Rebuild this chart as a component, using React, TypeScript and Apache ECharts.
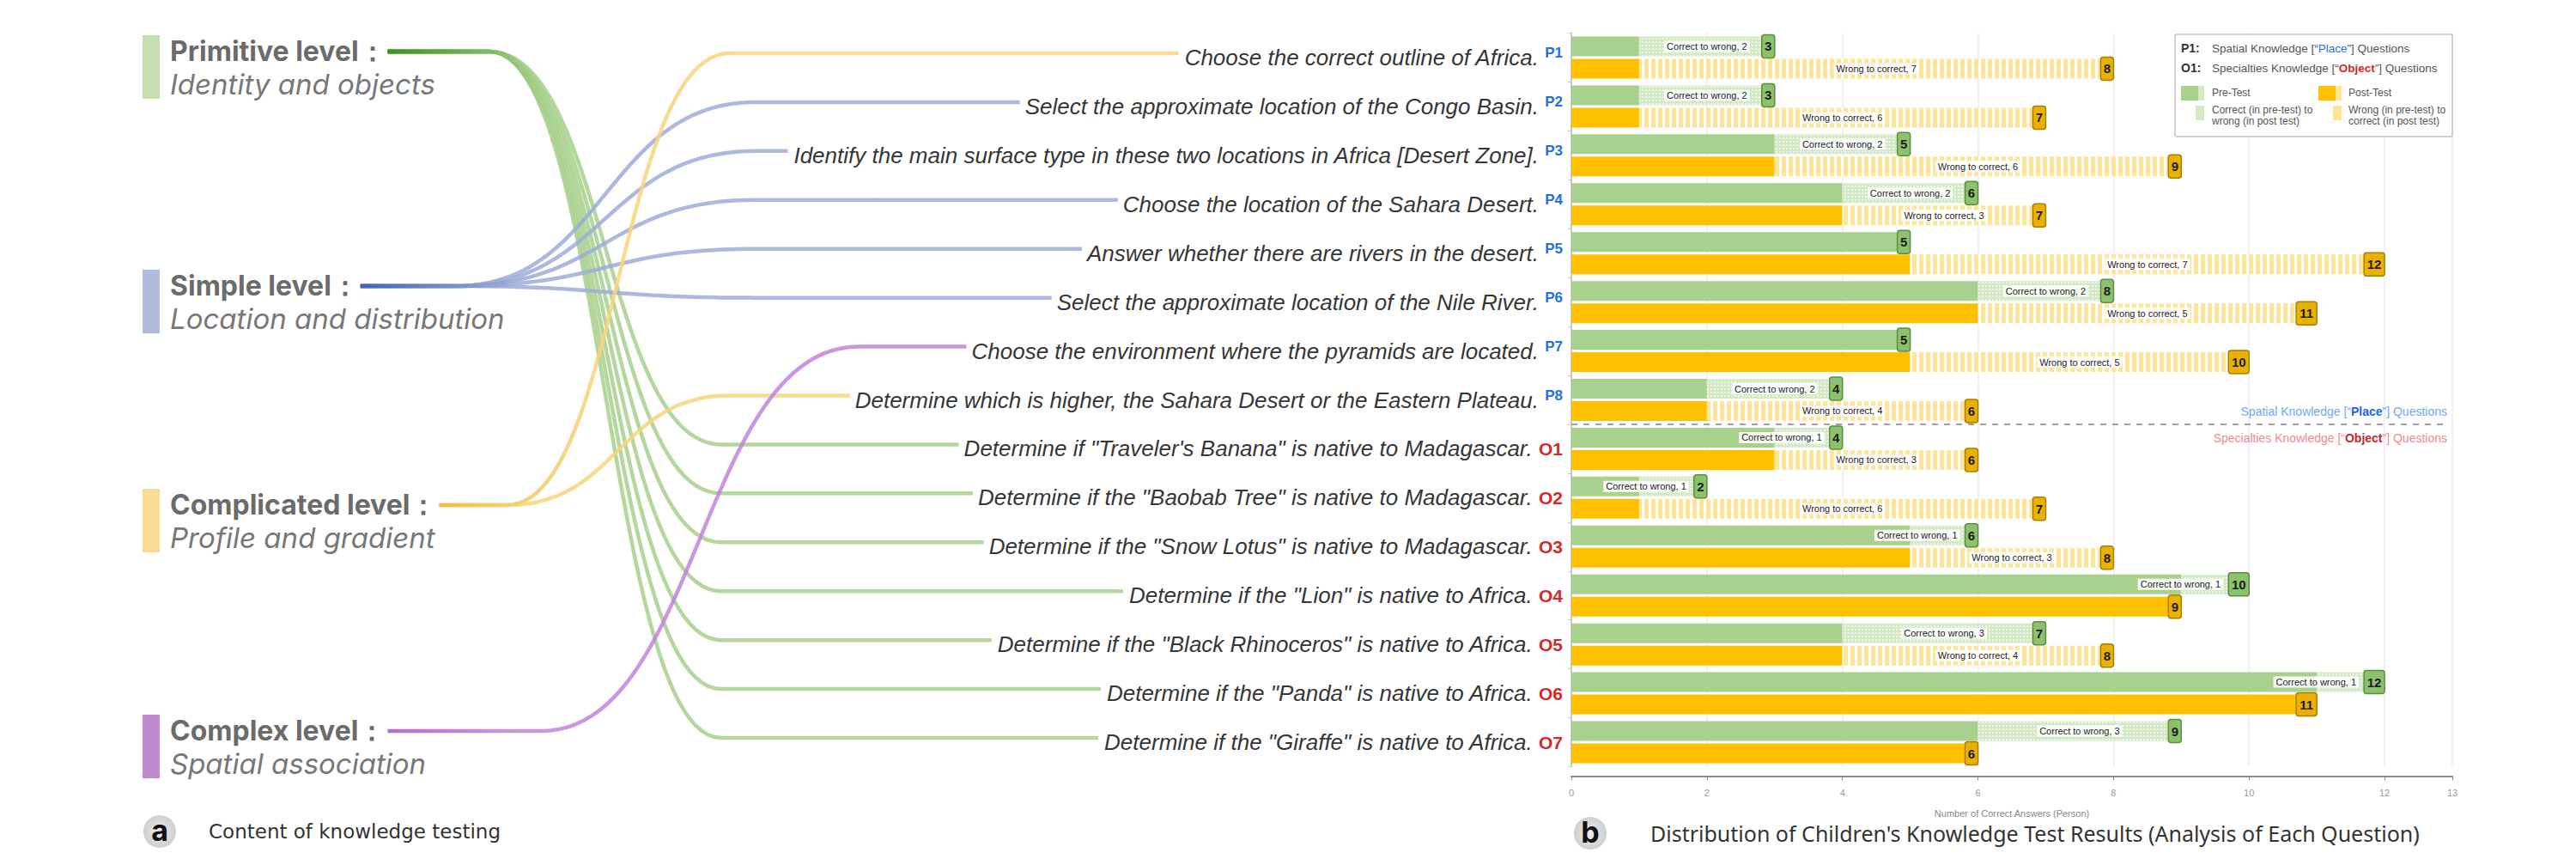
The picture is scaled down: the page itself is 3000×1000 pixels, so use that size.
import React, { useEffect, useRef } from 'react';
import * as echarts from 'echarts';

// ---------------- DATA ----------------
const questionIds = ['P1', 'P2', 'P3', 'P4', 'P5', 'P6', 'P7', 'P8', 'O1', 'O2', 'O3', 'O4', 'O5', 'O6', 'O7'];
const questionTexts = [
  'Choose the correct outline of Africa.',
  'Select the approximate location of the Congo Basin.',
  'Identify the main surface type in these two locations in Africa [Desert Zone].',
  'Choose the location of the Sahara Desert.',
  'Answer whether there are rivers in the desert.',
  'Select the approximate location of the Nile River.',
  'Choose the environment where the pyramids are located.',
  'Determine which is higher, the Sahara Desert or the Eastern Plateau.',
  'Determine if "Traveler\'s Banana" is native to Madagascar.',
  'Determine if the "Baobab Tree" is native to Madagascar.',
  'Determine if the "Snow Lotus" is native to Madagascar.',
  'Determine if the "Lion" is native to Africa.',
  'Determine if the "Black Rhinoceros" is native to Africa.',
  'Determine if the "Panda" is native to Africa.',
  'Determine if the "Giraffe" is native to Africa.',
];
const preTotal = [3, 3, 5, 6, 5, 8, 5, 4, 4, 2, 6, 10, 7, 12, 9];
const correctToWrong = [2, 2, 2, 2, 0, 2, 0, 2, 1, 1, 1, 1, 3, 1, 3];
const postTotal = [8, 7, 9, 7, 12, 11, 10, 6, 6, 7, 8, 9, 8, 11, 6];
const wrongToCorrect = [7, 6, 6, 3, 7, 5, 5, 4, 3, 6, 3, 0, 4, 0, 0];

const xMin = 0;
const xMax = 13;
const xInterval = 2;
const xAxisName = 'Number of Correct Answers (Person)';

const levelTitles = ['Primitive level', 'Simple level', 'Complicated level', 'Complex level'];
const levelDescs = ['Identity and objects', 'Location and distribution', 'Profile and gradient', 'Spatial association'];
const levelTargets = [
  ['O1', 'O2', 'O3', 'O4', 'O5', 'O6', 'O7'],
  ['P2', 'P3', 'P4', 'P5', 'P6'],
  ['P1', 'P8'],
  ['P7'],
];

const panelATitle = 'Content of knowledge testing';
const panelBTitle = "Distribution of Children's Knowledge Test Results (Analysis of Each Question)";

// ---------------- STYLE / LAYOUT ----------------
const GRID_LEFT = 1830;
const GRID_TOP = 38.5;
const GRID_W = 1026;
const GRID_H = 854;
const BAR_W = 23;
const BAR_OFF = 13;

const GREEN = '#a9d18e';
const GREEN_H = '#d4e9c5';
const ORANGE = '#ffc000';
const ORANGE_H = '#ffe597';

const Q_FAMILY = '"Liberation Sans", Arial, sans-serif';
const Q_SIZE = 26;
const ID_FAMILY = '"Liberation Sans", Arial, sans-serif';
const SMALL_FAMILY = '"Liberation Sans Narrow", "Liberation Sans", sans-serif';
const LVL_FAMILY = 'Inter, "Noto Sans", sans-serif';

const levelBarColors = ['#c5dfb2', '#b0bcdc', '#f8dc94', '#c08ad0'];
const curveLight = ['#a6d08b', '#9eacd8', '#f7d47e', '#c284dc'];
const curveDark = ['#3c931c', '#4462b8', '#efbc3c', '#a555c9'];
const levelTitleY = [59, 332, 587, 850];
const curveBend = [
  [570, 840],
  [530, 880],
  [590, 850],
  [630, 1000],
];

const ctx = typeof document !== 'undefined' ? document.createElement('canvas').getContext('2d') : null;
function textW(font: string, s: string): number {
  if (!ctx) return s.length * 8;
  ctx.font = font;
  return ctx.measureText(s).width;
}

function buildOption() {
  const unit = GRID_W / (xMax - xMin);
  const solid = preTotal.map((v, i) => v - correctToWrong[i]);
  const labelFont = `11px ${SMALL_FAMILY}`;
  const badgeW = (v: number) => (String(v).length > 1 ? 24 : 15);

  const hatchedData = (vals: number[], totals: number[], prefix: string) =>
    vals.map((v, i) => {
      const lw = textW(labelFont, `${prefix}, ${v}`) + 6;
      const seg = v * unit;
      const narrow = seg - badgeW(totals[i]) - 4 < lw;
      return {
        value: v,
        label: narrow
          ? { show: v > 0, position: 'insideRight', distance: badgeW(totals[i]) + 6 }
          : { show: v > 0, position: 'inside' },
      };
    });

  const hatchLabel = (prefix: string) => ({
    show: true,
    formatter: (p: any) => `${prefix}, ${p.value}`,
    fontSize: 11,
    fontFamily: SMALL_FAMILY,
    color: '#222',
    backgroundColor: 'rgba(255,255,255,0.9)',
    padding: [1, 3],
  });

  const badgeData: number[][] = [];
  preTotal.forEach((v, i) => badgeData.push([v, i, 0]));
  postTotal.forEach((v, i) => badgeData.push([v, i, 1]));

  return {
    animation: false,
    backgroundColor: '#ffffff',
    grid: { left: GRID_LEFT, top: GRID_TOP, width: GRID_W, height: GRID_H, outerBoundsMode: 'none' },
    xAxis: {
      type: 'value',
      min: xMin,
      max: xMax,
      interval: xInterval,
      offset: 11,
      axisLine: { show: true, lineStyle: { color: '#8c8c8c', width: 2 } },
      axisTick: { show: true, length: 5, lineStyle: { color: '#8c8c8c' } },
      axisLabel: { color: '#9a9a9a', fontSize: 11, margin: 14, fontFamily: SMALL_FAMILY },
      splitLine: { show: true, lineStyle: { color: '#ececec', width: 1.5 } },
      name: xAxisName,
      nameLocation: 'middle',
      nameGap: 38,
      nameTextStyle: { color: '#888', fontSize: 11, fontFamily: SMALL_FAMILY },
    },
    yAxis: {
      type: 'category',
      data: questionIds,
      inverse: true,
      axisLine: { show: true, lineStyle: { color: '#c8c8c8', width: 2 } },
      axisTick: { show: true, length: 4, lineStyle: { color: '#c8c8c8' } },
      axisLabel: {
        interval: 0,
        margin: 10,
        formatter: (val: string, idx: number) =>
          `{q|${questionTexts[idx]} }{${val[0] === 'P' ? 'p' : 'o'}|${val}}`,
        rich: {
          q: { fontFamily: Q_FAMILY, fontStyle: 'italic', fontSize: Q_SIZE, color: '#363636' },
          p: { fontFamily: ID_FAMILY, fontWeight: 'bold', fontSize: 17, color: '#1f6fe8', padding: [0, 0, 10, 0] },
          o: { fontFamily: ID_FAMILY, fontWeight: 'bold', fontSize: 21, color: '#d42a2a' },
        },
      },
    },
    series: [
      {
        name: 'Pre-Test',
        type: 'bar',
        stack: 'pre',
        barWidth: BAR_W,
        barGap: '13%',
        silent: true,
        itemStyle: { color: GREEN },
        data: solid,
      },
      {
        name: 'Correct to wrong',
        type: 'bar',
        stack: 'pre',
        barWidth: BAR_W,
        barGap: '13%',
        silent: true,
        itemStyle: {
          color: GREEN_H,
          decal: { symbol: 'rect', symbolSize: 1, dashArrayX: [2, 2], dashArrayY: [2, 2], color: 'rgba(255,255,255,0.6)' },
        },
        label: hatchLabel('Correct to wrong'),
        data: hatchedData(correctToWrong, preTotal, 'Correct to wrong'),
      },
      {
        name: 'Post-Test',
        type: 'bar',
        stack: 'post',
        barWidth: BAR_W,
        barGap: '13%',
        silent: true,
        itemStyle: { color: ORANGE },
        data: solid,
      },
      {
        name: 'Wrong to correct',
        type: 'bar',
        stack: 'post',
        barWidth: BAR_W,
        barGap: '13%',
        silent: true,
        itemStyle: {
          color: ORANGE_H,
          decal: { symbol: 'rect', symbolSize: 1, dashArrayX: [3, 5], dashArrayY: [1, 0], color: '#ffffff' },
        },
        label: hatchLabel('Wrong to correct'),
        data: hatchedData(wrongToCorrect, postTotal, 'Wrong to correct'),
      },
      {
        name: 'Totals',
        type: 'custom',
        silent: true,
        encode: { x: 0, y: 1 },
        data: badgeData,
        z: 5,
        renderItem: (_params: any, api: any) => {
          const v = api.value(0);
          const ci = api.value(1);
          const kind = api.value(2);
          const pt = api.coord([v, ci]);
          const yc = pt[1] + (kind === 0 ? -BAR_OFF : BAR_OFF);
          const txt = String(v);
          const w = badgeW(v);
          const h = 27;
          return {
            type: 'group',
            children: [
              {
                type: 'rect',
                shape: { x: pt[0] - w, y: yc - h / 2, width: w, height: h, r: 3 },
                style: {
                  fill: kind === 0 ? '#8cc26c' : '#ebb100',
                  stroke: kind === 0 ? '#5e8d44' : '#a88000',
                  lineWidth: 1.5,
                },
              },
              {
                type: 'text',
                style: {
                  text: txt,
                  x: pt[0] - w / 2,
                  y: yc,
                  align: 'center',
                  verticalAlign: 'middle',
                  fontSize: 15,
                  fontWeight: 'bold',
                  fontFamily: SMALL_FAMILY,
                  fill: '#1c1c1c',
                },
              },
            ],
          };
        },
      },
    ],
  };
}

function buildGraphics(chart: any) {
  const g: any[] = [];
  const rowY = (id: string) => chart.convertToPixel({ yAxisIndex: 0 }, id) as number;

  const qFont = `italic ${Q_SIZE}px ${Q_FAMILY}`;
  const textStart = (id: string) => {
    const idx = questionIds.indexOf(id);
    const idFont = id[0] === 'P' ? `bold 17px ${ID_FAMILY}` : `bold 21px ${ID_FAMILY}`;
    const w = textW(qFont, questionTexts[idx] + ' ') + textW(idFont, id);
    return GRID_LEFT - 10 - w;
  };

  const titleFont = `bold 32px ${LVL_FAMILY}`;
  const descFont = `italic 33px ${LVL_FAMILY}`;

  levelTitles.forEach((title, li) => {
    const ty = levelTitleY[li];
    const tw = textW(titleFont, `${title}：`);
    const xs = 198 + tw + 2;
    const ys = ty + 1;
    const [xa, xb] = curveBend[li];
    levelTargets[li].forEach((id) => {
      const yt = rowY(id) - 5;
      const xe = textStart(id) - 6;
      const pts: number[][] = [[xs, ys], [xa, ys]];
      const cx = (xa + xb) / 2;
      const N = 50;
      for (let k = 1; k <= N; k++) {
        const t = k / N;
        const mt = 1 - t;
        const x = mt * mt * mt * xa + 3 * mt * mt * t * cx + 3 * mt * t * t * cx + t * t * t * xb;
        const y = mt * mt * mt * ys + 3 * mt * mt * t * ys + 3 * mt * t * t * yt + t * t * t * yt;
        pts.push([x, y]);
      }
      pts.push([xe, yt]);
      g.push({
        type: 'polyline',
        z: 1,
        silent: true,
        shape: { points: pts },
        style: {
          fill: null,
          lineWidth: 4.5,
          opacity: 0.85,
          stroke: {
            type: 'linear',
            x: xs,
            y: 0,
            x2: xe,
            y2: 0,
            global: true,
            colorStops: [
              { offset: 0, color: curveDark[li] },
              { offset: 0.22, color: curveLight[li] },
              { offset: 1, color: curveLight[li] },
            ],
          },
        },
      });
    });

    g.push({
      type: 'rect',
      z: 2,
      silent: true,
      shape: { x: 166, y: ty - 18, width: 20, height: 74 },
      style: { fill: levelBarColors[li] },
    });
    g.push({
      type: 'text',
      z: 3,
      silent: true,
      x: 198,
      y: ty,
      style: { text: `${title}：`, font: titleFont, fill: '#6b6b6b', verticalAlign: 'middle' },
    });
    g.push({
      type: 'text',
      z: 3,
      silent: true,
      x: 198,
      y: ty + 39,
      style: { text: levelDescs[li], font: descFont, fill: '#777', verticalAlign: 'middle' },
    });
  });

  // separator between P and O questions
  const ySep = (rowY('P8') + rowY('O1')) / 2;
  g.push({
    type: 'line',
    z: 4,
    silent: true,
    shape: { x1: GRID_LEFT, y1: ySep, x2: 2845, y2: ySep },
    style: { stroke: '#a0a0a0', lineWidth: 2, lineDash: [7, 7] },
  });
  g.push({
    type: 'text',
    z: 4,
    silent: true,
    x: 2850,
    y: ySep - 15,
    style: {
      text: '{a|Spatial Knowledge [“}{b|Place}{a|”] Questions}',
      align: 'right',
      verticalAlign: 'middle',
      rich: {
        a: { fontSize: 14, fontFamily: SMALL_FAMILY, fill: '#6ea8ff' },
        b: { fontSize: 14, fontFamily: SMALL_FAMILY, fontWeight: 'bold', fill: '#1f64e0' },
      },
    },
  });
  g.push({
    type: 'text',
    z: 4,
    silent: true,
    x: 2850,
    y: ySep + 16,
    style: {
      text: '{a|Specialties Knowledge [“}{b|Object}{a|”] Questions}',
      align: 'right',
      verticalAlign: 'middle',
      rich: {
        a: { fontSize: 14, fontFamily: SMALL_FAMILY, fill: '#ef8a8e' },
        b: { fontSize: 14, fontFamily: SMALL_FAMILY, fontWeight: 'bold', fill: '#c4262c' },
      },
    },
  });

  // legend box
  const LX = 2533;
  const LY = 40;
  g.push({
    type: 'rect',
    z: 6,
    silent: true,
    shape: { x: LX, y: LY, width: 323, height: 119, r: 2 },
    style: { fill: '#ffffff', stroke: '#c4c4c4', lineWidth: 1.5 },
  });
  const legendText = (x: number, y: number, style: any) =>
    g.push({ type: 'text', z: 7, silent: true, x, y, style: { verticalAlign: 'middle', ...style } });
  legendText(2540, 56, { text: 'P1:', font: `bold 14px ${ID_FAMILY}`, fill: '#333' });
  legendText(2576, 56, {
    text: '{a|Spatial Knowledge [“}{b|Place}{a|”] Questions}',
    rich: {
      a: { fontSize: 13.5, fontFamily: SMALL_FAMILY, fill: '#555' },
      b: { fontSize: 13.5, fontFamily: SMALL_FAMILY, fill: '#1f6fe8' },
    },
  });
  legendText(2540, 79, { text: 'O1:', font: `bold 14px ${ID_FAMILY}`, fill: '#333' });
  legendText(2576, 79, {
    text: '{a|Specialties Knowledge [“}{b|Object}{a|”] Questions}',
    rich: {
      a: { fontSize: 13.5, fontFamily: SMALL_FAMILY, fill: '#555' },
      b: { fontSize: 13.5, fontFamily: SMALL_FAMILY, fontWeight: 'bold', fill: '#d42a2a' },
    },
  });
  const sw = (x: number, y: number, w: number, h: number, fill: string) =>
    g.push({ type: 'rect', z: 7, silent: true, shape: { x, y, width: w, height: h }, style: { fill } });
  sw(2540, 100, 20, 17, GREEN);
  sw(2560, 100, 7, 17, GREEN_H);
  legendText(2576, 108, { text: 'Pre-Test', font: `12px ${SMALL_FAMILY}`, fill: '#555' });
  sw(2700, 100, 20, 17, ORANGE);
  sw(2720, 100, 7, 17, ORANGE_H);
  legendText(2735, 108, { text: 'Post-Test', font: `12px ${SMALL_FAMILY}`, fill: '#555' });
  sw(2557, 123, 10, 17, GREEN_H);
  legendText(2576, 134, {
    text: 'Correct (in pre-test) to\nwrong (in post test)',
    font: `12px ${SMALL_FAMILY}`,
    lineHeight: 13,
    fill: '#555',
  });
  sw(2717, 123, 10, 17, ORANGE_H);
  legendText(2735, 134, {
    text: 'Wrong (in pre-test) to\ncorrect (in post test)',
    font: `12px ${SMALL_FAMILY}`,
    lineHeight: 13,
    fill: '#555',
  });

  // panel captions
  const caption = (cx: number, cy: number, letter: string, tx: number, text: string, font: string) => {
    g.push({
      type: 'circle',
      z: 3,
      silent: true,
      shape: { cx, cy, r: 19 },
      style: {
        fill: {
          type: 'radial',
          x: 0.5,
          y: 0.5,
          r: 0.5,
          colorStops: [
            { offset: 0, color: '#ececec' },
            { offset: 1, color: '#cfcfcf' },
          ],
        },
      },
    });
    g.push({
      type: 'text',
      z: 4,
      silent: true,
      x: cx,
      y: cy - 2,
      style: { text: letter, font: `bold 34px ${LVL_FAMILY}`, fill: '#111', align: 'center', verticalAlign: 'middle' },
    });
    g.push({
      type: 'text',
      z: 4,
      silent: true,
      x: tx,
      y: cy,
      style: { text, font, fill: '#333', verticalAlign: 'middle' },
    });
  };
  caption(186, 968, 'a', 243, panelATitle, `23px "DejaVu Sans", sans-serif`);
  caption(1852, 970, 'b', 1922, panelBTitle, `25px "Noto Sans", sans-serif`);

  return g;
}

export default function App() {
  const ref = useRef<HTMLDivElement>(null);
  useEffect(() => {
    if (!ref.current) return;
    const chart = echarts.init(ref.current, null, { renderer: 'svg' });
    chart.setOption(buildOption() as any);
    chart.setOption({ graphic: { elements: buildGraphics(chart) } } as any);
    return () => chart.dispose();
  }, []);
  return (
    <div
      ref={ref}
      style={{ position: 'absolute', left: 0, top: 0, width: 3000, height: 1000, background: '#ffffff' }}
    />
  );
}
